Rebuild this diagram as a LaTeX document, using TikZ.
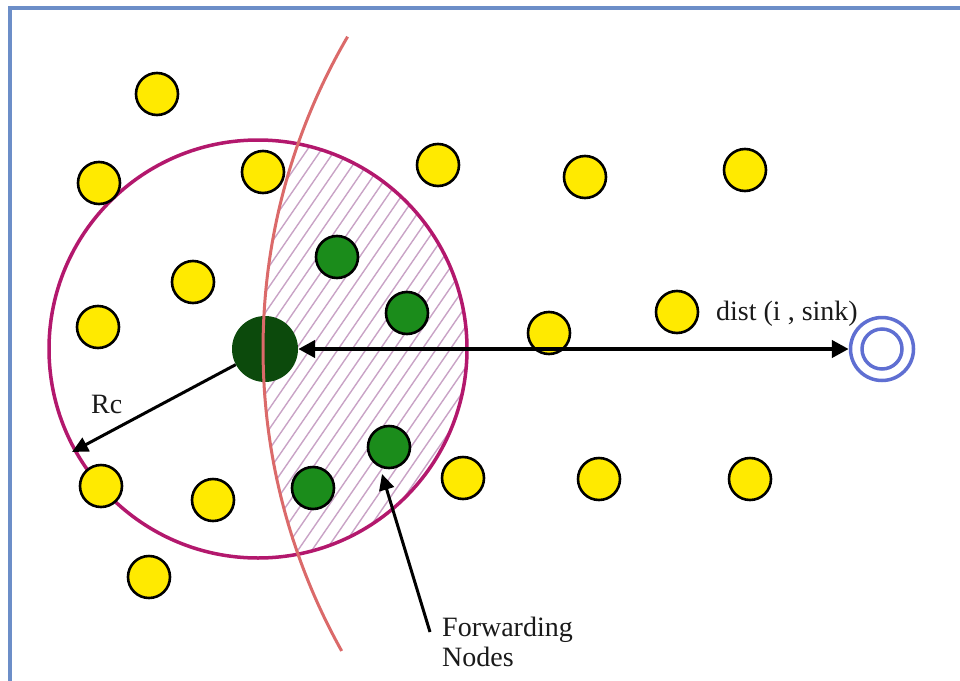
\documentclass[tikz,border=0pt]{standalone}
\usepackage{fontspec}
\setmainfont{Liberation Serif}
\usetikzlibrary{arrows.meta}
\definecolor{ylw}{HTML}{FFEA00}
\definecolor{grn}{HTML}{1B8C1B}
\definecolor{dgrn}{HTML}{0C4A0C}
\definecolor{rangec}{HTML}{B3186D}
\definecolor{arcc}{HTML}{DB6A6A}
\definecolor{hatchc}{HTML}{C9A3C6}
\definecolor{sinkc}{HTML}{5F6FD2}
\definecolor{framec}{HTML}{6C8EC8}
\definecolor{txtc}{HTML}{1A1A1A}
\tikzset{
  ynode/.style={circle,draw=black,line width=2.6pt,fill=ylw,minimum size=42pt,inner sep=0pt},
  gnode/.style={circle,draw=black,line width=2.6pt,fill=grn,minimum size=42pt,inner sep=0pt},
  srcnode/.style={circle,fill=dgrn,minimum size=66pt,inner sep=0pt},
  sinkouter/.style={circle,draw=sinkc,line width=3.5pt,minimum size=63pt,inner sep=0pt},
  sinkinner/.style={circle,draw=sinkc,line width=3.5pt,minimum size=40pt,inner sep=0pt},
  lbl/.style={text=txtc,font=\fontsize{28}{30}\selectfont,inner sep=0pt},
  bigarrow/.style={line width=4.5pt,{Triangle[length=17pt,width=17pt]}-{Triangle[length=17pt,width=17pt]}},
  thinarrow/.style={line width=3pt,-{Triangle[length=16pt,width=15pt]}}
}
\begin{document}
\begin{tikzpicture}[x=1pt,y=-1pt]
\useasboundingbox (0,0) rectangle (960,680);
\fill[white] (0,0) rectangle (960,680);
% frame
\draw[framec,line width=3.5pt] (10,690) -- (10,8) -- (970,8);
% hatched forwarding zone
\begin{scope}
  \clip (258,349) circle[radius=209pt];
  \clip (881,350) circle[radius=619pt];
  \foreach \a in {-100,-86,...,700}{
    \draw[hatchc,line width=1.4pt] (\a,620) -- ({\a+330},140);
  }
\end{scope}
% transmission range
\draw[rangec,line width=3.5pt] (258,349) circle[radius=209pt];
% sensor nodes
\node[ynode] (y1) at (157,94) {};
\node[ynode] (y2) at (99,183) {};
\node[ynode] (y3) at (263,172) {};
\node[ynode] (y4) at (438,165) {};
\node[ynode] (y5) at (585,177) {};
\node[ynode] (y6) at (745,170) {};
\node[ynode] (y7) at (193,282) {};
\node[ynode] (y8) at (98,327) {};
\node[ynode] (y9) at (549,333) {};
\node[ynode] (y10) at (677,312) {};
\node[ynode] (y11) at (101,486) {};
\node[ynode] (y12) at (213,500) {};
\node[ynode] (y13) at (463,478) {};
\node[ynode] (y14) at (599,479) {};
\node[ynode] (y15) at (750,479) {};
\node[ynode] (y16) at (149,577) {};
% forwarding nodes
\node[gnode] (g1) at (337,257) {};
\node[gnode] (g2) at (407,313) {};
\node[gnode] (g3) at (389,447) {};
\node[gnode] (g4) at (313,488) {};
% source
\node[srcnode] (src) at (265,349) {};
% sink
\node[sinkouter] (sink) at (882,349) {};
\node[sinkinner] (sinkin) at (882,349) {};
% arc of radius dist(i,sink) around the sink
\draw[arcc,line width=3pt] (sink.center) ++(149.7:619pt) arc[start angle=149.7,end angle=209.2,radius=619pt];
% connectors
\coordinate (rcend) at (72,452);
\coordinate (fwdstart) at (430,632);
\coordinate (fwdtip) at (382,474);
\draw[bigarrow] (src) -- (sink);
\draw[thinarrow] (src) -- (rcend);
\draw[thinarrow] (fwdstart) -- (fwdtip);
% labels
\node[lbl,anchor=base west] (rc) at (91,413) {Rc};
\node[lbl,anchor=base west] (dist) at (716,320) {dist (i , sink)};
\node[lbl,anchor=north west,align=left] (fwd) at (442,617) {Forwarding\\Nodes};
\end{tikzpicture}
\end{document}
